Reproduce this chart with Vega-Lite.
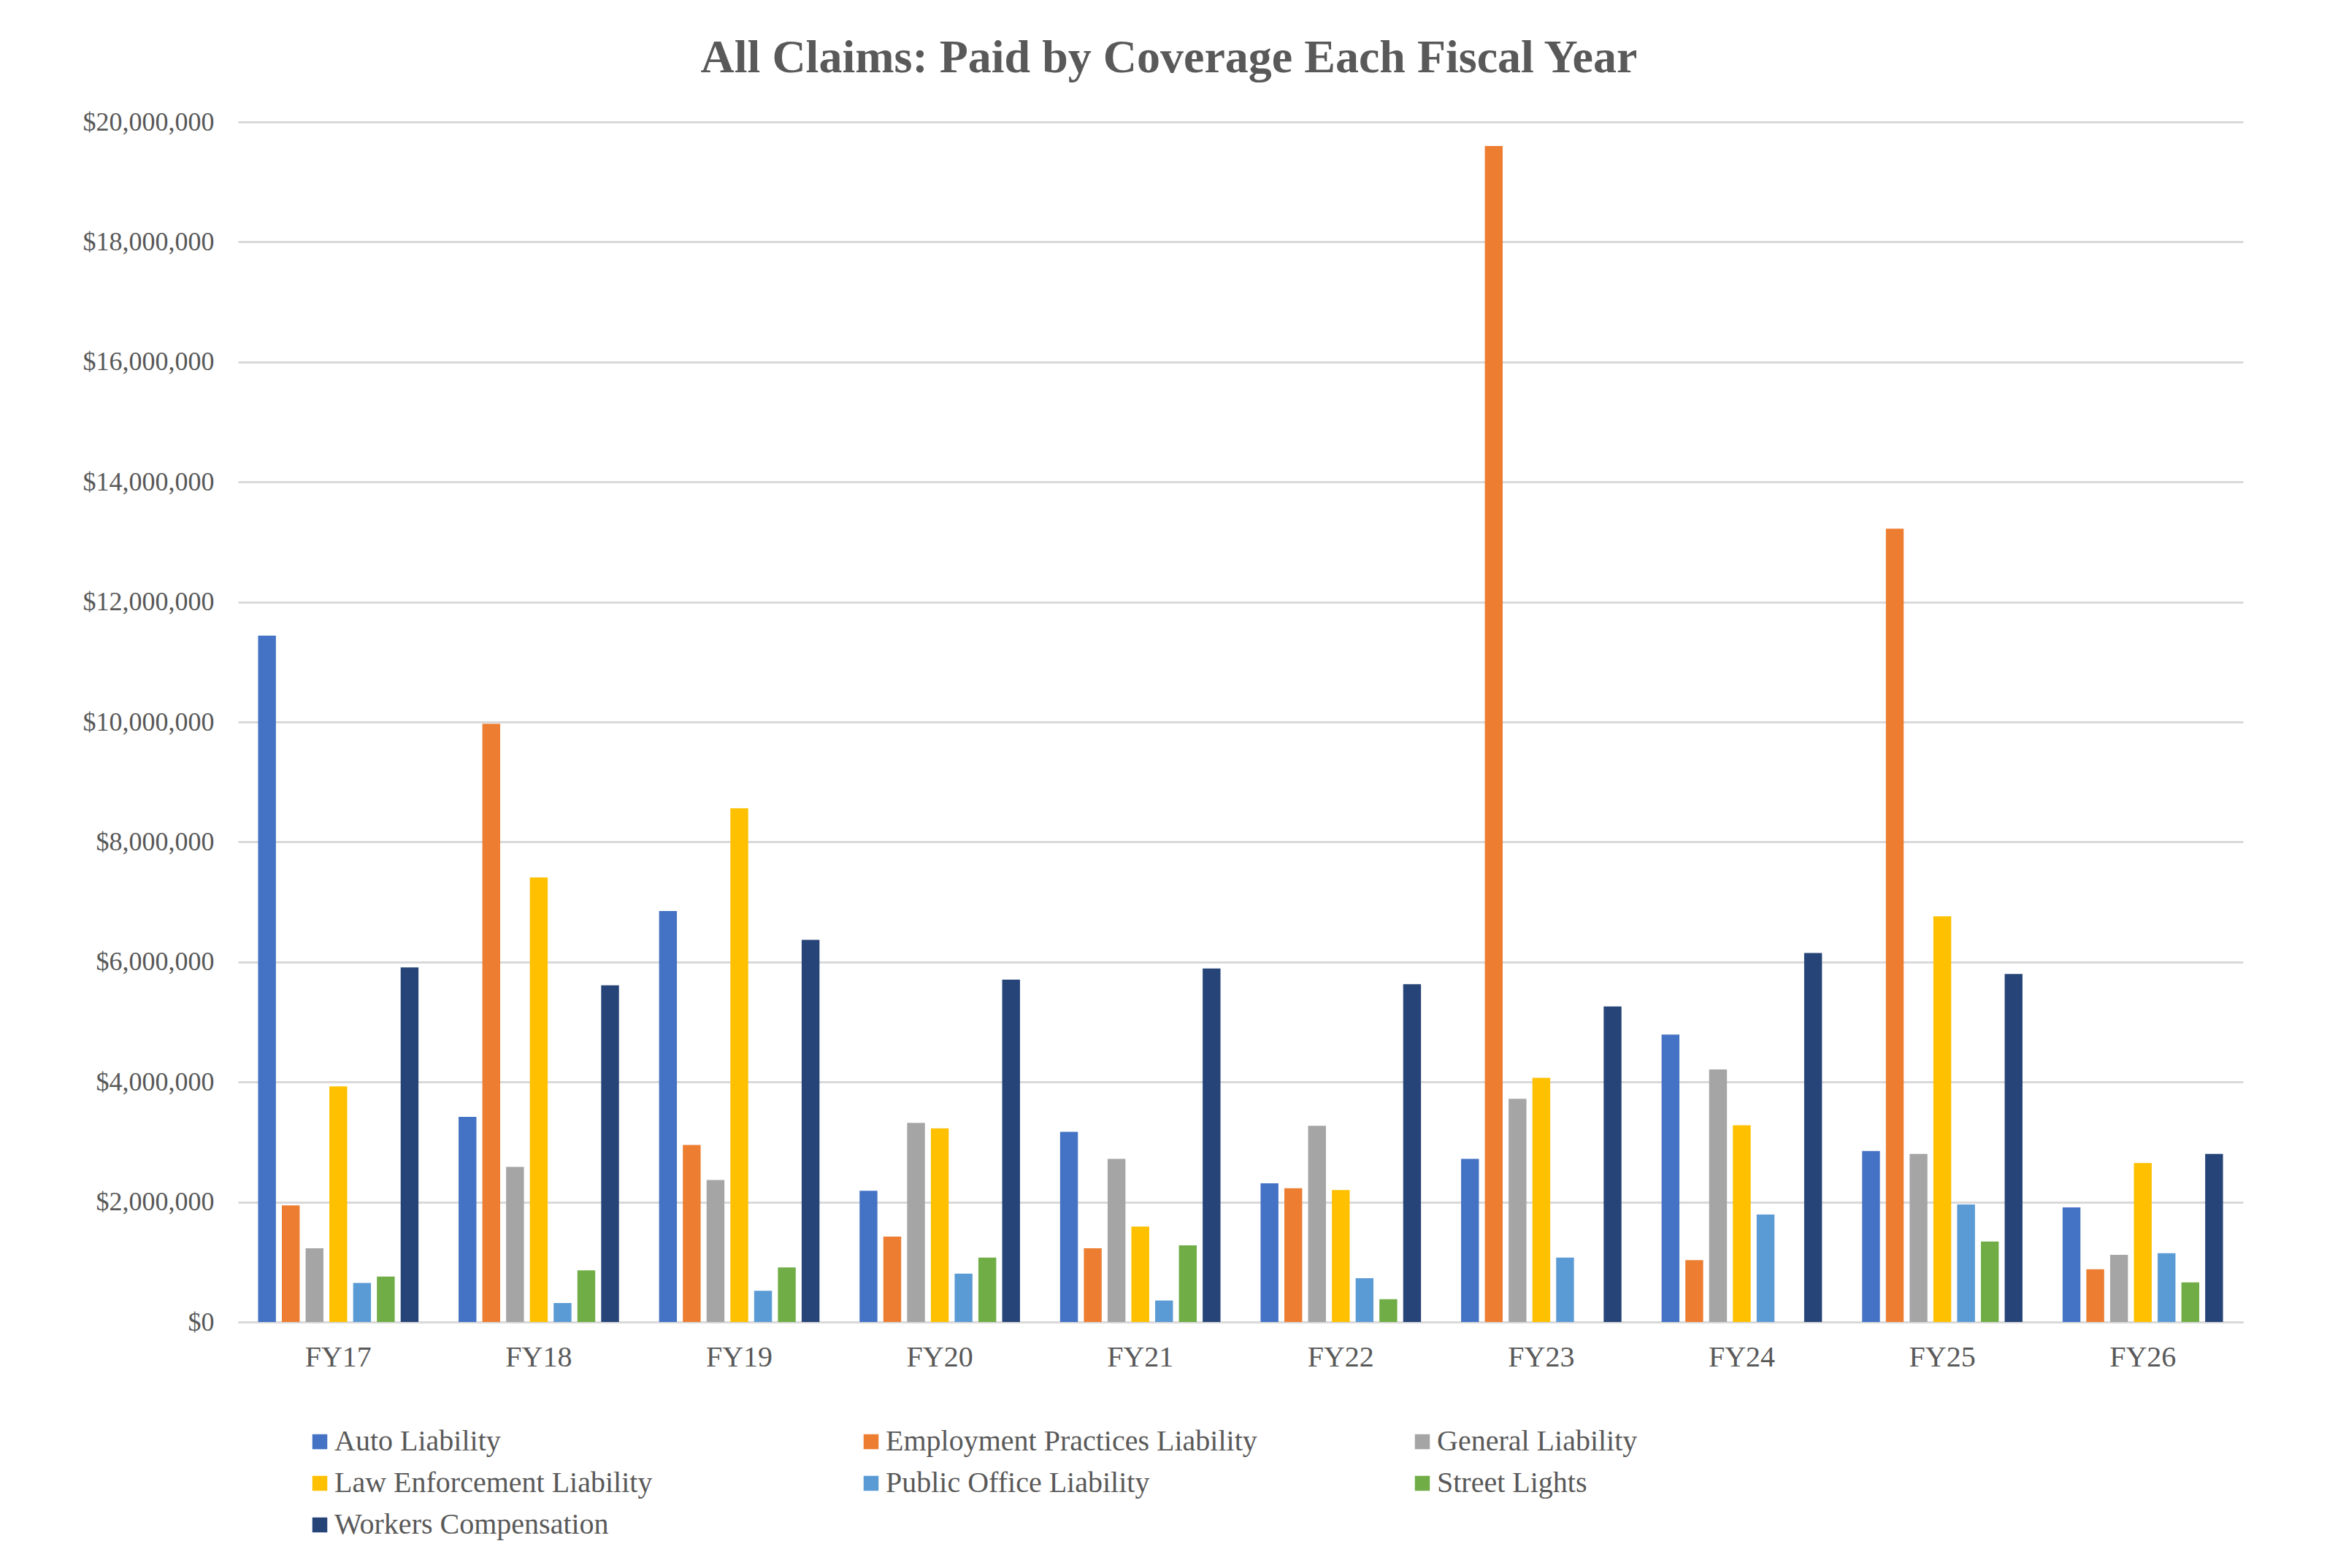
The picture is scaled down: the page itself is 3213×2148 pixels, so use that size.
{
  "$schema": "https://vega.github.io/schema/vega-lite/v6.json",
  "width": 2746,
  "height": 1644,
  "autosize": {"type": "none"},
  "padding": {"left": 326, "top": 167, "right": 141, "bottom": 337},
  "background": "white",
  "title": {
    "text": "All Claims: Paid by Coverage Each Fiscal Year",
    "font": "Liberation Serif",
    "fontSize": 64,
    "fontWeight": "bold",
    "color": "#595959",
    "anchor": "middle",
    "offset": 37,
    "dx": -98
  },
  "data": {
    "values": [
      {"fy": "FY17", "coverage": "Auto Liability", "paid": 11440000},
      {"fy": "FY17", "coverage": "Employment Practices Liability", "paid": 1943000},
      {"fy": "FY17", "coverage": "General Liability", "paid": 1228000},
      {"fy": "FY17", "coverage": "Law Enforcement Liability", "paid": 3927000},
      {"fy": "FY17", "coverage": "Public Office Liability", "paid": 650000},
      {"fy": "FY17", "coverage": "Street Lights", "paid": 756000},
      {"fy": "FY17", "coverage": "Workers Compensation", "paid": 5910000},
      {"fy": "FY18", "coverage": "Auto Liability", "paid": 3420000},
      {"fy": "FY18", "coverage": "Employment Practices Liability", "paid": 9970000},
      {"fy": "FY18", "coverage": "General Liability", "paid": 2585000},
      {"fy": "FY18", "coverage": "Law Enforcement Liability", "paid": 7410000},
      {"fy": "FY18", "coverage": "Public Office Liability", "paid": 317000},
      {"fy": "FY18", "coverage": "Street Lights", "paid": 862000},
      {"fy": "FY18", "coverage": "Workers Compensation", "paid": 5610000},
      {"fy": "FY19", "coverage": "Auto Liability", "paid": 6850000},
      {"fy": "FY19", "coverage": "Employment Practices Liability", "paid": 2950000},
      {"fy": "FY19", "coverage": "General Liability", "paid": 2366000},
      {"fy": "FY19", "coverage": "Law Enforcement Liability", "paid": 8560000},
      {"fy": "FY19", "coverage": "Public Office Liability", "paid": 520000},
      {"fy": "FY19", "coverage": "Street Lights", "paid": 910000},
      {"fy": "FY19", "coverage": "Workers Compensation", "paid": 6370000},
      {"fy": "FY20", "coverage": "Auto Liability", "paid": 2187000},
      {"fy": "FY20", "coverage": "Employment Practices Liability", "paid": 1423000},
      {"fy": "FY20", "coverage": "General Liability", "paid": 3317000},
      {"fy": "FY20", "coverage": "Law Enforcement Liability", "paid": 3228000},
      {"fy": "FY20", "coverage": "Public Office Liability", "paid": 805000},
      {"fy": "FY20", "coverage": "Street Lights", "paid": 1073000},
      {"fy": "FY20", "coverage": "Workers Compensation", "paid": 5707000},
      {"fy": "FY21", "coverage": "Auto Liability", "paid": 3170000},
      {"fy": "FY21", "coverage": "Employment Practices Liability", "paid": 1228000},
      {"fy": "FY21", "coverage": "General Liability", "paid": 2720000},
      {"fy": "FY21", "coverage": "Law Enforcement Liability", "paid": 1590000},
      {"fy": "FY21", "coverage": "Public Office Liability", "paid": 358000},
      {"fy": "FY21", "coverage": "Street Lights", "paid": 1276000},
      {"fy": "FY21", "coverage": "Workers Compensation", "paid": 5890000},
      {"fy": "FY22", "coverage": "Auto Liability", "paid": 2310000},
      {"fy": "FY22", "coverage": "Employment Practices Liability", "paid": 2230000},
      {"fy": "FY22", "coverage": "General Liability", "paid": 3270000},
      {"fy": "FY22", "coverage": "Law Enforcement Liability", "paid": 2200000},
      {"fy": "FY22", "coverage": "Public Office Liability", "paid": 730000},
      {"fy": "FY22", "coverage": "Street Lights", "paid": 380000},
      {"fy": "FY22", "coverage": "Workers Compensation", "paid": 5630000},
      {"fy": "FY23", "coverage": "Auto Liability", "paid": 2720000},
      {"fy": "FY23", "coverage": "Employment Practices Liability", "paid": 19600000},
      {"fy": "FY23", "coverage": "General Liability", "paid": 3720000},
      {"fy": "FY23", "coverage": "Law Enforcement Liability", "paid": 4070000},
      {"fy": "FY23", "coverage": "Public Office Liability", "paid": 1073000},
      {"fy": "FY23", "coverage": "Workers Compensation", "paid": 5260000},
      {"fy": "FY24", "coverage": "Auto Liability", "paid": 4790000},
      {"fy": "FY24", "coverage": "Employment Practices Liability", "paid": 1030000},
      {"fy": "FY24", "coverage": "General Liability", "paid": 4210000},
      {"fy": "FY24", "coverage": "Law Enforcement Liability", "paid": 3280000},
      {"fy": "FY24", "coverage": "Public Office Liability", "paid": 1790000},
      {"fy": "FY24", "coverage": "Workers Compensation", "paid": 6150000},
      {"fy": "FY25", "coverage": "Auto Liability", "paid": 2850000},
      {"fy": "FY25", "coverage": "Employment Practices Liability", "paid": 13220000},
      {"fy": "FY25", "coverage": "General Liability", "paid": 2800000},
      {"fy": "FY25", "coverage": "Law Enforcement Liability", "paid": 6760000},
      {"fy": "FY25", "coverage": "Public Office Liability", "paid": 1960000},
      {"fy": "FY25", "coverage": "Street Lights", "paid": 1340000},
      {"fy": "FY25", "coverage": "Workers Compensation", "paid": 5800000},
      {"fy": "FY26", "coverage": "Auto Liability", "paid": 1910000},
      {"fy": "FY26", "coverage": "Employment Practices Liability", "paid": 878000},
      {"fy": "FY26", "coverage": "General Liability", "paid": 1120000},
      {"fy": "FY26", "coverage": "Law Enforcement Liability", "paid": 2650000},
      {"fy": "FY26", "coverage": "Public Office Liability", "paid": 1146000},
      {"fy": "FY26", "coverage": "Street Lights", "paid": 660000},
      {"fy": "FY26", "coverage": "Workers Compensation", "paid": 2800000}
    ]
  },
  "mark": {"type": "bar"},
  "encoding": {
    "x": {
      "field": "fy",
      "type": "nominal",
      "sort": null,
      "scale": {"paddingInner": 0.2, "paddingOuter": 0.1},
      "axis": {
        "title": null,
        "labelAngle": 0,
        "labelFont": "Liberation Serif",
        "labelFontSize": 40,
        "labelColor": "#595959",
        "labelPadding": 28,
        "ticks": false,
        "domain": true,
        "domainColor": "#D9D9D9",
        "domainWidth": 3,
        "grid": false
      }
    },
    "xOffset": {
      "field": "coverage",
      "type": "nominal",
      "scale": {"paddingInner": 0.25, "paddingOuter": 0}
    },
    "y": {
      "field": "paid",
      "type": "quantitative",
      "scale": {"domain": [0, 20000000], "nice": false},
      "axis": {
        "title": null,
        "values": [0, 2000000, 4000000, 6000000, 8000000, 10000000, 12000000, 14000000, 16000000, 18000000, 20000000],
        "format": "$,.0f",
        "labelFont": "Liberation Serif",
        "labelFontSize": 36,
        "labelColor": "#595959",
        "labelPadding": 33,
        "labelLimit": 1000,
        "ticks": false,
        "domain": false,
        "grid": true,
        "gridColor": "#D9D9D9",
        "gridWidth": 3
      }
    },
    "color": {
      "field": "coverage",
      "type": "nominal",
      "scale": {
        "domain": ["Auto Liability", "Employment Practices Liability", "General Liability", "Law Enforcement Liability", "Public Office Liability", "Street Lights", "Workers Compensation"],
        "range": ["#4472C4", "#ED7D31", "#A5A5A5", "#FFC000", "#5B9BD5", "#70AD47", "#264478"]
      },
      "legend": {
        "title": null,
        "orient": "none",
        "legendX": 92,
        "legendY": 1788,
        "direction": "horizontal",
        "columns": 3,
        "gridAlign": "all",
        "columnPadding": 206,
        "rowPadding": 17,
        "symbolType": "square",
        "symbolSize": 420,
        "symbolStrokeWidth": 0,
        "symbolOffset": 0,
        "labelOffset": 0,
        "labelFont": "Liberation Serif",
        "labelFontSize": 40,
        "labelColor": "#595959",
        "labelLimit": 1000
      }
    }
  },
  "config": {
    "view": {"stroke": null}
  }
}
